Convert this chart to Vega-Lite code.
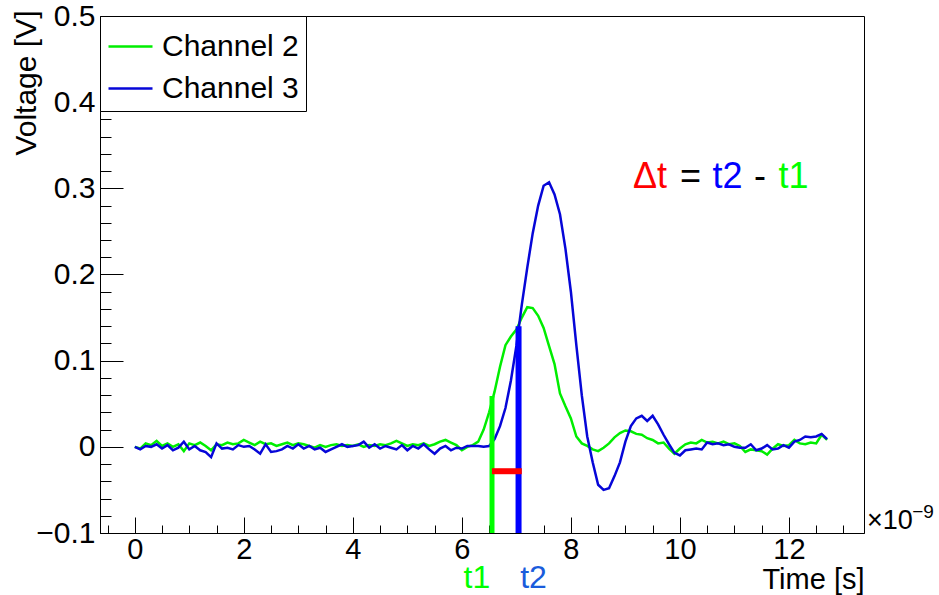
{
  "$schema": "https://vega.github.io/schema/vega-lite/v6.json",
  "width": 764,
  "height": 517,
  "autosize": "none",
  "padding": {"left": 100, "top": 16, "right": 75, "bottom": 62},
  "background": "white",
  "config": {
    "font": "Liberation Sans",
    "view": {"stroke": "black", "strokeWidth": 1},
    "text": {"font": "Liberation Sans"}
  },
  "datasets": {
    "wave": [
      {"t":0.0,"g":0.000,"b":0.000},{"t":0.1,"g":-0.002,"b":-0.003},{"t":0.2,"g":0.004,"b":0.001},{"t":0.3,"g":0.002,"b":0.000},
      {"t":0.4,"g":0.007,"b":0.003},{"t":0.5,"g":0.001,"b":-0.002},{"t":0.6,"g":0.004,"b":0.002},{"t":0.7,"g":0.000,"b":-0.004},
      {"t":0.8,"g":0.003,"b":-0.001},{"t":0.9,"g":-0.005,"b":0.006},{"t":1.0,"g":0.004,"b":-0.003},{"t":1.1,"g":0.002,"b":0.001},
      {"t":1.2,"g":0.005,"b":-0.004},{"t":1.3,"g":0.001,"b":-0.006},{"t":1.4,"g":-0.004,"b":-0.012},{"t":1.5,"g":0.003,"b":0.004},
      {"t":1.6,"g":0.002,"b":-0.002},{"t":1.7,"g":0.005,"b":-0.001},{"t":1.8,"g":0.003,"b":-0.003},{"t":1.9,"g":0.004,"b":0.002},
      {"t":2.0,"g":0.008,"b":0.000},{"t":2.1,"g":0.005,"b":0.001},{"t":2.2,"g":0.002,"b":-0.003},{"t":2.3,"g":0.006,"b":-0.008},
      {"t":2.4,"g":0.003,"b":0.003},{"t":2.5,"g":0.004,"b":-0.006},{"t":2.6,"g":0.001,"b":-0.005},{"t":2.7,"g":0.003,"b":-0.003},
      {"t":2.8,"g":0.005,"b":0.001},{"t":2.9,"g":0.002,"b":-0.002},{"t":3.0,"g":0.004,"b":0.003},{"t":3.1,"g":0.003,"b":-0.002},
      {"t":3.2,"g":0.001,"b":0.001},{"t":3.3,"g":-0.001,"b":-0.003},{"t":3.4,"g":0.002,"b":-0.001},{"t":3.5,"g":0.000,"b":-0.006},
      {"t":3.6,"g":0.002,"b":-0.003},{"t":3.7,"g":0.003,"b":0.000},{"t":3.8,"g":0.001,"b":0.003},{"t":3.9,"g":0.002,"b":0.000},
      {"t":4.0,"g":0.001,"b":0.001},{"t":4.1,"g":0.003,"b":0.002},{"t":4.2,"g":0.000,"b":0.006},{"t":4.3,"g":0.002,"b":-0.001},
      {"t":4.4,"g":0.001,"b":0.003},{"t":4.5,"g":0.003,"b":-0.002},{"t":4.6,"g":0.002,"b":0.001},{"t":4.7,"g":0.004,"b":-0.001},
      {"t":4.8,"g":0.007,"b":-0.003},{"t":4.9,"g":0.004,"b":0.002},{"t":5.0,"g":0.001,"b":-0.004},{"t":5.1,"g":0.003,"b":0.001},
      {"t":5.2,"g":0.002,"b":-0.002},{"t":5.3,"g":0.004,"b":0.003},{"t":5.4,"g":0.001,"b":-0.003},{"t":5.5,"g":0.003,"b":-0.008},
      {"t":5.6,"g":0.006,"b":-0.002},{"t":5.7,"g":0.008,"b":0.001},{"t":5.8,"g":0.005,"b":-0.004},{"t":5.9,"g":0.002,"b":-0.001},
      {"t":6.0,"g":-0.004,"b":-0.002},{"t":6.1,"g":0.000,"b":0.001},{"t":6.2,"g":0.002,"b":0.001},{"t":6.3,"g":0.006,"b":0.001},
      {"t":6.4,"g":0.020,"b":0.000},{"t":6.5,"g":0.040,"b":0.001},{"t":6.6,"g":0.064,"b":0.009},{"t":6.7,"g":0.093,"b":0.024},
      {"t":6.8,"g":0.118,"b":0.045},{"t":6.9,"g":0.128,"b":0.077},{"t":7.0,"g":0.136,"b":0.117},{"t":7.1,"g":0.150,"b":0.165},
      {"t":7.2,"g":0.162,"b":0.208},{"t":7.3,"g":0.161,"b":0.248},{"t":7.4,"g":0.152,"b":0.280},{"t":7.5,"g":0.138,"b":0.303},
      {"t":7.6,"g":0.117,"b":0.307},{"t":7.7,"g":0.096,"b":0.293},{"t":7.8,"g":0.062,"b":0.270},{"t":7.9,"g":0.047,"b":0.230},
      {"t":8.0,"g":0.033,"b":0.180},{"t":8.1,"g":0.012,"b":0.118},{"t":8.2,"g":0.004,"b":0.060},{"t":8.3,"g":0.001,"b":0.012},
      {"t":8.4,"g":-0.003,"b":-0.018},{"t":8.5,"g":-0.005,"b":-0.044},{"t":8.6,"g":-0.001,"b":-0.050},{"t":8.7,"g":0.004,"b":-0.048},
      {"t":8.8,"g":0.011,"b":-0.034},{"t":8.9,"g":0.016,"b":-0.018},{"t":9.0,"g":0.019,"b":0.006},{"t":9.1,"g":0.018,"b":0.024},
      {"t":9.2,"g":0.015,"b":0.033},{"t":9.3,"g":0.014,"b":0.036},{"t":9.4,"g":0.010,"b":0.030},{"t":9.5,"g":0.008,"b":0.036},
      {"t":9.6,"g":0.004,"b":0.026},{"t":9.7,"g":0.005,"b":0.014},{"t":9.8,"g":-0.002,"b":0.003},{"t":9.9,"g":-0.008,"b":-0.007},
      {"t":10.0,"g":-0.002,"b":-0.010},{"t":10.1,"g":0.003,"b":-0.004},{"t":10.2,"g":0.005,"b":-0.003},{"t":10.3,"g":0.004,"b":-0.002},
      {"t":10.4,"g":0.008,"b":-0.003},{"t":10.5,"g":0.005,"b":0.005},{"t":10.6,"g":0.006,"b":0.003},{"t":10.7,"g":0.004,"b":0.004},
      {"t":10.8,"g":0.006,"b":0.002},{"t":10.9,"g":0.003,"b":0.003},{"t":11.0,"g":0.004,"b":0.000},{"t":11.1,"g":0.001,"b":-0.001},
      {"t":11.2,"g":-0.006,"b":-0.001},{"t":11.3,"g":-0.003,"b":0.003},{"t":11.4,"g":-0.004,"b":-0.004},{"t":11.5,"g":-0.005,"b":-0.002},
      {"t":11.6,"g":-0.009,"b":0.002},{"t":11.7,"g":-0.002,"b":-0.003},{"t":11.8,"g":0.003,"b":-0.002},{"t":11.9,"g":0.001,"b":0.002},
      {"t":12.0,"g":0.002,"b":-0.001},{"t":12.1,"g":0.008,"b":0.006},{"t":12.2,"g":0.004,"b":0.008},{"t":12.3,"g":0.003,"b":0.012},
      {"t":12.4,"g":0.005,"b":0.011},{"t":12.5,"g":0.004,"b":0.012},{"t":12.6,"g":0.014,"b":0.015},{"t":12.7,"g":0.008,"b":0.009}
    ],
    "notes": [
      {"t":9.14,"v":0.3005,"txt":"Δt","part":"delta"},
      {"t":10.0,"v":0.3005,"txt":"=","part":"op"},
      {"t":10.6,"v":0.3005,"txt":"t2","part":"t2"},
      {"t":11.36,"v":0.3005,"txt":"-","part":"op"},
      {"t":11.81,"v":0.3005,"txt":"t1","part":"t1"}
    ],
    "marks": [
      {"t":6.03,"v":-0.1635,"txt":"t1","part":"t1"},
      {"t":7.07,"v":-0.1635,"txt":"t2","part":"t2"}
    ]
  },
  "layer": [
    {
      "data": {"name": "wave"},
      "transform": [{"fold": ["g", "b"], "as": ["ch", "v"]}],
      "mark": {"type": "line", "strokeWidth": 2.5},
      "encoding": {
        "x": {
          "field": "t", "type": "quantitative",
          "scale": {"domain": [-0.638, 13.377], "nice": false, "zero": false},
          "axis": {
            "orient": "bottom",
            "values": [0, 2, 4, 6, 8, 10, 12],
            "format": "d",
            "labelOverlap": false,
            "labelFontSize": 29,
            "labelColor": "black",
            "labelPadding": 18,
            "tickSize": -16,
            "tickColor": "black",
            "tickWidth": 1,
            "domainColor": "black",
            "grid": false,
            "title": "Time [s]",
            "titleFontSize": 29,
            "titleFontWeight": "normal",
            "titleColor": "black",
            "titleAlign": "right",
            "titleBaseline": "alphabetic",
            "titleX": 764,
            "titleY": 55
          }
        },
        "y": {
          "field": "v", "type": "quantitative",
          "scale": {"domain": [-0.1, 0.5], "nice": false, "zero": false},
          "axis": {
            "orient": "left",
            "values": [-0.1, 0, 0.1, 0.2, 0.3, 0.4, 0.5],
            "format": ".1~f",
            "labelOverlap": false,
            "labelFontSize": 30,
            "labelColor": "black",
            "labelPadding": 28,
            "tickSize": -23,
            "tickColor": "black",
            "tickWidth": 1,
            "domainColor": "black",
            "grid": false,
            "title": "Voltage [V]",
            "titleFontSize": 30,
            "titleFontWeight": "normal",
            "titleColor": "black",
            "titleAngle": 270,
            "titleAlign": "right",
            "titleBaseline": "alphabetic",
            "titleX": -65,
            "titleY": -6
          }
        },
        "color": {
          "field": "ch", "type": "nominal",
          "scale": {"domain": ["g", "b"], "range": ["#00ee00", "#0606d8"]},
          "legend": {
            "title": null,
            "orient": "top-left",
            "offset": 0,
            "padding": 7,
            "strokeColor": "black",
            "fillColor": "white",
            "symbolType": "stroke",
            "symbolSize": 1936,
            "symbolStrokeWidth": 2.5,
            "labelFontSize": 30,
            "labelColor": "black",
            "labelOffset": 8,
            "labelLimit": 400,
            "rowPadding": 3,
            "labelExpr": "datum.label == 'g' ? 'Channel 2' : 'Channel 3'"
          }
        }
      }
    },
    {
      "data": {"values": [{"t": 6.553, "lo": -0.1, "hi": 0.059}]},
      "mark": {"type": "rule", "strokeWidth": 5, "color": "#00ff00"},
      "encoding": {
        "x": {
          "field": "t", "type": "quantitative",
          "axis": {
            "orient": "bottom",
            "values": [-0.5,0.5,1,1.5,2.5,3,3.5,4.5,5,5.5,6.5,7,7.5,8.5,9,9.5,10.5,11,11.5,12.5,13],
            "labels": false,
            "domain": false,
            "grid": false,
            "tickSize": -8,
            "tickColor": "black",
            "tickWidth": 1,
            "title": null
          }
        },
        "y": {
          "field": "lo", "type": "quantitative",
          "axis": {
            "orient": "left",
            "values": [-0.08,-0.06,-0.04,-0.02,0.02,0.04,0.06,0.08,0.12,0.14,0.16,0.18,0.22,0.24,0.26,0.28,0.32,0.34,0.36,0.38,0.42,0.44,0.46,0.48],
            "labels": false,
            "domain": false,
            "grid": false,
            "tickSize": -11,
            "tickColor": "black",
            "tickWidth": 1,
            "title": null
          }
        },
        "y2": {"field": "hi"}
      }
    },
    {
      "data": {"values": [{"t": 7.04, "lo": -0.1, "hi": 0.140}]},
      "mark": {"type": "rule", "strokeWidth": 6, "color": "#0000ff"},
      "encoding": {
        "x": {"field": "t", "type": "quantitative", "axis": null},
        "y": {"field": "lo", "type": "quantitative", "axis": null},
        "y2": {"field": "hi"}
      }
    },
    {
      "data": {"values": [{"t0": 6.552, "t1": 7.10, "v": -0.0283}]},
      "mark": {"type": "rule", "strokeWidth": 6, "color": "#ff0000"},
      "encoding": {
        "x": {"field": "t0", "type": "quantitative", "axis": null},
        "x2": {"field": "t1"},
        "y": {"field": "v", "type": "quantitative", "axis": null}
      }
    },
    {
      "data": {"name": "notes"},
      "mark": {"type": "text", "align": "left", "baseline": "alphabetic", "fontSize": 36},
      "encoding": {
        "x": {"field": "t", "type": "quantitative", "axis": null},
        "y": {"field": "v", "type": "quantitative", "axis": null},
        "text": {"field": "txt"},
        "color": {
          "field": "part", "type": "nominal",
          "scale": {"domain": ["delta", "op", "t2", "t1"], "range": ["#ff0000", "#000000", "#0000ff", "#00ff00"]},
          "legend": null
        }
      }
    },
    {
      "data": {"name": "marks"},
      "mark": {"type": "text", "align": "left", "baseline": "alphabetic", "fontSize": 32},
      "encoding": {
        "x": {"field": "t", "type": "quantitative", "axis": null},
        "y": {"field": "v", "type": "quantitative", "axis": null},
        "text": {"field": "txt"},
        "color": {
          "field": "part", "type": "nominal",
          "scale": {"domain": ["t1", "t2"], "range": ["#00ff00", "#1a5cdc"]},
          "legend": null
        }
      }
    },
    {
      "data": {"values": [{"t": 13.43, "v": -0.0957, "txt": "×10"}]},
      "mark": {"type": "text", "align": "left", "baseline": "alphabetic", "fontSize": 27, "color": "black"},
      "encoding": {
        "x": {"field": "t", "type": "quantitative", "axis": null},
        "y": {"field": "v", "type": "quantitative", "axis": null},
        "text": {"field": "txt"}
      }
    },
    {
      "data": {"values": [{"t": 14.26, "v": -0.083, "txt": "−9"}]},
      "mark": {"type": "text", "align": "left", "baseline": "alphabetic", "fontSize": 19, "color": "black"},
      "encoding": {
        "x": {"field": "t", "type": "quantitative", "axis": null},
        "y": {"field": "v", "type": "quantitative", "axis": null},
        "text": {"field": "txt"}
      }
    }
  ],
  "resolve": {
    "scale": {"color": "independent"},
    "axis": {"x": "independent", "y": "independent"}
  }
}
